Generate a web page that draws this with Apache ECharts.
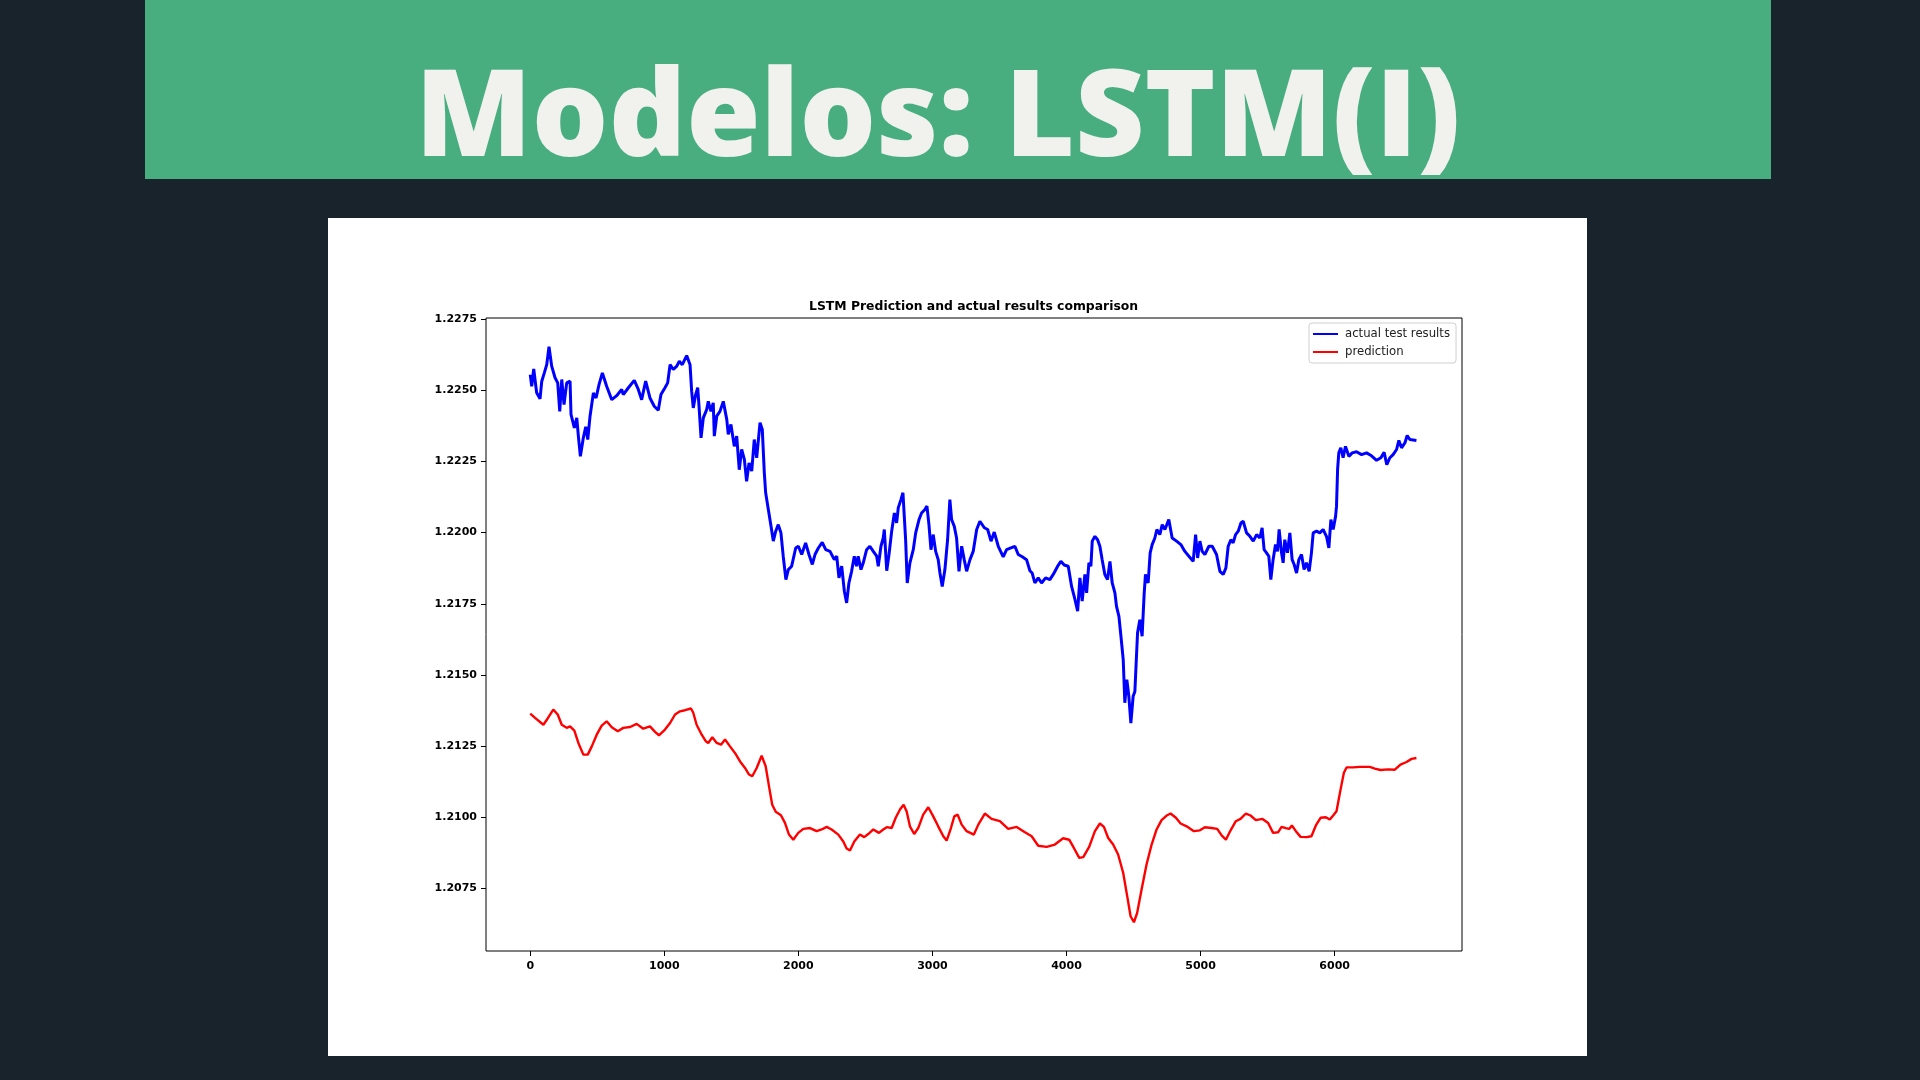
<!DOCTYPE html>
<html>
<head>
<meta charset="utf-8">
<title>Modelos: LSTM(I)</title>
<script src="https://cdn.jsdelivr.net/npm/echarts@6.0.0/dist/echarts.min.js"></script>
<style>
  html, body { margin: 0; padding: 0; }
  body { width: 1920px; height: 1080px; background: #19232c; position: relative; overflow: hidden; }
  .banner { position: absolute; left: 145px; top: 0; width: 1626px; height: 179px; background: #48ae80; }
  .banner h1 {
    position: absolute; left: 0; right: 0; top: 46px; margin: 0;
    text-align: center; color: #f1f1ee;
    font-family: "Open Sans", sans-serif; font-weight: 800; font-size: 120.5px; line-height: 127px;
    padding-right: 40px;
  }
  .panel { position: absolute; left: 328px; top: 218px; width: 1259px; height: 838px; background: #fff; }
  #chart { position: absolute; left: 0; top: 0; width: 1920px; height: 1080px; }
</style>
</head>
<body>
<div class="banner"><h1>Modelos: LSTM(I)</h1></div>
<div class="panel"></div>
<div id="chart"></div>
<script>
// values (x = sample index, y = price)
const actualX = [0, 11, 26, 48, 73, 86, 105, 123, 140, 160, 185, 205, 220, 235, 252, 272, 297, 304, 329, 347,
  359, 374, 396, 414, 429, 446, 471, 491, 513, 538, 570, 608, 645, 682, 694, 732, 776, 806, 831, 861,
  893, 925, 955, 975, 1005, 1025, 1043, 1067, 1093, 1112, 1134, 1167, 1192, 1204, 1216, 1234, 1249, 1259, 1274, 1291,
  1316, 1328, 1348, 1365, 1373, 1391, 1415, 1440, 1466, 1477, 1497, 1522, 1540, 1559, 1577, 1597, 1614, 1632, 1652, 1671,
  1689, 1714, 1731, 1746, 1756, 1776, 1796, 1813, 1831, 1850, 1870, 1887, 1907, 1925, 1950, 1980, 2000, 2025, 2054, 2079,
  2104, 2124, 2149, 2178, 2204, 2236, 2268, 2286, 2303, 2323, 2343, 2360, 2377, 2397, 2417, 2434, 2446, 2467, 2484, 2509,
  2533, 2559, 2584, 2596, 2616, 2633, 2641, 2659, 2676, 2696, 2716, 2733, 2745, 2765, 2780, 2790, 2800, 2812, 2832, 2857,
  2875, 2900, 2919, 2944, 2959, 2974, 2989, 3006, 3024, 3043, 3056, 3073, 3093, 3113, 3130, 3143, 3163, 3180, 3198, 3218,
  3237, 3255, 3280, 3304, 3330, 3354, 3387, 3412, 3437, 3461, 3491, 3528, 3553, 3585, 3615, 3640, 3670, 3702, 3727, 3744,
  3764, 3789, 3814, 3844, 3876, 3901, 3934, 3958, 3983, 4013, 4038, 4063, 4083, 4100, 4117, 4137, 4150, 4167, 4182, 4192,
  4212, 4232, 4249, 4266, 4286, 4306, 4324, 4341, 4361, 4373, 4391, 4406, 4423, 4435, 4450, 4465, 4480, 4497, 4510, 4523,
  4530, 4547, 4564, 4579, 4589, 4609, 4624, 4639, 4659, 4674, 4696, 4714, 4734, 4763, 4788, 4821, 4853, 4883, 4913, 4945,
  4963, 4978, 4995, 5012, 5032, 5062, 5087, 5119, 5144, 5169, 5189, 5206, 5226, 5243, 5261, 5281, 5301, 5318, 5343, 5368,
  5393, 5418, 5442, 5459, 5474, 5492, 5509, 5524, 5541, 5559, 5574, 5586, 5604, 5616, 5628, 5648, 5666, 5683, 5698, 5716,
  5733, 5753, 5772, 5790, 5810, 5827, 5840, 5865, 5889, 5914, 5939, 5957, 5972, 5989, 6007, 6014, 6022, 6031, 6046, 6063,
  6081, 6106, 6131, 6163, 6201, 6238, 6275, 6313, 6345, 6369, 6389, 6412, 6436, 6462, 6479, 6499, 6524, 6541, 6561, 6610];
const actualY = [1.22555, 1.22514, 1.22575, 1.22491, 1.2247, 1.22532, 1.22561, 1.2259, 1.22653, 1.22585, 1.22544, 1.22526, 1.22426, 1.22538, 1.2245, 1.22526, 1.22532, 1.22415, 1.22368, 1.22403,
  1.22339, 1.22268, 1.22333, 1.22372, 1.22327, 1.22409, 1.22491, 1.22473, 1.2252, 1.22561, 1.22514, 1.22467, 1.22481, 1.22503, 1.22485, 1.22509, 1.22535, 1.22503, 1.22467, 1.22532,
  1.22473, 1.22444, 1.2243, 1.22485, 1.22509, 1.22526, 1.2259, 1.22573, 1.22585, 1.22602, 1.2259, 1.22622, 1.2259, 1.22497, 1.22438, 1.22485, 1.22509, 1.22444, 1.22333, 1.22403,
  1.22432, 1.22461, 1.22426, 1.22456, 1.22339, 1.22409, 1.22426, 1.22461, 1.22397, 1.22345, 1.2238, 1.22303, 1.22339, 1.22221, 1.22292, 1.22257, 1.2218, 1.22245, 1.22216, 1.22327,
  1.22263, 1.22386, 1.22362, 1.2221, 1.2214, 1.22081, 1.22022, 1.2197, 1.22005, 1.22028, 1.21999, 1.21917, 1.21835, 1.2187, 1.21882, 1.21946, 1.21952, 1.21923, 1.21964, 1.21923,
  1.21888, 1.21923, 1.21946, 1.21966, 1.2194, 1.21934, 1.21905, 1.21917, 1.21841, 1.21882, 1.21794, 1.21753, 1.21823, 1.21864, 1.21917, 1.21882, 1.21917, 1.2187, 1.21894, 1.2194,
  1.21952, 1.21934, 1.21917, 1.21882, 1.21952, 1.21981, 1.22011, 1.21866, 1.21923, 1.22005, 1.22069, 1.22034, 1.22087, 1.22116, 1.2214, 1.22057, 1.21975, 1.21823, 1.21894, 1.2194,
  1.21999, 1.22046, 1.22069, 1.22081, 1.22093, 1.22028, 1.2194, 1.21993, 1.21934, 1.21905, 1.21858, 1.21811, 1.2187, 1.21975, 1.22116, 1.22046, 1.22022, 1.21981, 1.21864, 1.21952,
  1.21905, 1.21864, 1.21905, 1.21934, 1.22011, 1.2204, 1.22017, 1.22011, 1.2197, 1.22002, 1.21952, 1.21915, 1.2194, 1.21946, 1.21952, 1.21923, 1.21915, 1.21905, 1.21866, 1.21858,
  1.21823, 1.21841, 1.21823, 1.21841, 1.21835, 1.21853, 1.21882, 1.21899, 1.21886, 1.21882, 1.21811, 1.21765, 1.21724, 1.21841, 1.21759, 1.21853, 1.21788, 1.21894, 1.21882, 1.2197,
  1.21987, 1.21975, 1.21952, 1.21905, 1.21853, 1.21835, 1.21899, 1.21823, 1.21788, 1.21741, 1.21706, 1.21636, 1.21554, 1.21402, 1.21483, 1.21425, 1.21331, 1.21425, 1.21442, 1.21577,
  1.21648, 1.21694, 1.21636, 1.21783, 1.21853, 1.21823, 1.21929, 1.21958, 1.21981, 1.22011, 1.21993, 1.22028, 1.22011, 1.22046, 1.21981, 1.2197, 1.21958, 1.21934, 1.21917, 1.21899,
  1.21993, 1.21911, 1.2197, 1.21934, 1.21923, 1.21952, 1.21952, 1.21923, 1.21864, 1.21853, 1.21876, 1.21952, 1.21975, 1.21964, 1.21993, 1.22005, 1.22034, 1.2204, 1.21999, 1.21987,
  1.2197, 1.21993, 1.21981, 1.22017, 1.2194, 1.21929, 1.21917, 1.21835, 1.21905, 1.21958, 1.21934, 1.22011, 1.21929, 1.21894, 1.21975, 1.21929, 1.21999, 1.21905, 1.21888, 1.21858,
  1.21905, 1.21923, 1.2187, 1.21894, 1.21864, 1.21929, 1.21999, 1.22005, 1.21999, 1.22011, 1.21987, 1.21946, 1.22046, 1.22011, 1.22057, 1.22093, 1.22221, 1.2228, 1.22298, 1.22263,
  1.22303, 1.22268, 1.2228, 1.22284, 1.22274, 1.2228, 1.2227, 1.22254, 1.22263, 1.22282, 1.22239, 1.22263, 1.22274, 1.22292, 1.22324, 1.22298, 1.22315, 1.22341, 1.22327, 1.22324];

const predX = [0, 36, 98, 130, 172, 205, 235, 272, 297, 329, 359, 396, 429, 459, 496, 533, 570, 608, 653, 694,
  745, 794, 843, 893, 931, 960, 1005, 1043, 1080, 1117, 1154, 1199, 1216, 1241, 1279, 1309, 1328, 1358, 1391, 1423,
  1453, 1490, 1527, 1565, 1602, 1632, 1656, 1689, 1726, 1756, 1783, 1805, 1831, 1870, 1900, 1930, 1962, 1999, 2037, 2087,
  2136, 2174, 2211, 2248, 2298, 2335, 2360, 2385, 2417, 2459, 2491, 2521, 2559, 2601, 2633, 2659, 2696, 2726, 2758, 2785,
  2808, 2832, 2864, 2894, 2931, 2969, 3006, 3043, 3081, 3106, 3138, 3163, 3188, 3218, 3255, 3309, 3342, 3391, 3441, 3503,
  3565, 3628, 3690, 3740, 3789, 3852, 3913, 3975, 4020, 4055, 4095, 4125, 4169, 4212, 4249, 4279, 4311, 4348, 4385, 4423,
  4453, 4478, 4503, 4527, 4560, 4597, 4635, 4672, 4709, 4747, 4776, 4816, 4851, 4896, 4950, 4995, 5032, 5082, 5124, 5157,
  5189, 5224, 5263, 5298, 5338, 5373, 5412, 5462, 5504, 5541, 5578, 5604, 5636, 5661, 5681, 5711, 5746, 5790, 5827, 5860,
  5895, 5934, 5964, 5989, 6014, 6044, 6069, 6089, 6138, 6188, 6262, 6300, 6342, 6399, 6449, 6491, 6536, 6574, 6610];
const predY = [1.21364, 1.21349, 1.21325, 1.21347, 1.21378, 1.21361, 1.21325, 1.21314, 1.21319, 1.21304, 1.21261, 1.2122, 1.2122, 1.21249, 1.2129, 1.21322, 1.21337, 1.21316, 1.21302, 1.21314,
  1.21317, 1.21328, 1.21311, 1.21319, 1.213, 1.21288, 1.21308, 1.21331, 1.21361, 1.21372, 1.21376, 1.21382, 1.21367, 1.21325, 1.2129, 1.21267, 1.21261, 1.21281, 1.21261, 1.21255,
  1.21273, 1.21249, 1.21226, 1.21196, 1.21173, 1.2115, 1.21144, 1.21173, 1.21216, 1.21179, 1.21103, 1.21044, 1.21019, 1.21007, 1.2098, 1.20939, 1.20921, 1.20945, 1.20959, 1.20962,
  1.20951, 1.20957, 1.20966, 1.20957, 1.20939, 1.20915, 1.2089, 1.20883, 1.20915, 1.20939, 1.2093, 1.20941, 1.20957, 1.20945, 1.20957, 1.20965, 1.20962, 1.20998, 1.21027, 1.21044,
  1.2102, 1.20968, 1.20941, 1.20962, 1.21009, 1.21035, 1.21003, 1.20968, 1.20933, 1.20918, 1.20962, 1.21003, 1.21009, 1.20974, 1.20951, 1.20939, 1.20974, 1.21013, 1.20994, 1.20986,
  1.20959, 1.20966, 1.20947, 1.20933, 1.209, 1.20896, 1.20904, 1.20926, 1.20921, 1.20892, 1.20857, 1.2086, 1.20896, 1.20951, 1.20978, 1.20966, 1.20927, 1.20904, 1.20869, 1.20804,
  1.20722, 1.20652, 1.20631, 1.20664, 1.20746, 1.20834, 1.20904, 1.20957, 1.2099, 1.21006, 1.21013, 1.20998, 1.20978, 1.20968, 1.20951, 1.20954, 1.20965, 1.20962, 1.20959, 1.20936,
  1.20921, 1.20954, 1.20986, 1.20994, 1.21013, 1.21006, 1.2099, 1.20994, 1.2098, 1.20945, 1.20947, 1.20966, 1.20962, 1.20959, 1.20971, 1.20951, 1.20931, 1.2093, 1.20933, 1.20971,
  1.20998, 1.21, 1.20992, 1.21006, 1.21021, 1.21097, 1.21156, 1.21175, 1.21175, 1.21177, 1.21177, 1.21171, 1.21166, 1.21168, 1.21167, 1.21185, 1.21194, 1.21205, 1.21208];

const xTicks = [0, 1000, 2000, 3000, 4000, 5000, 6000];
const yTicks = [1.2075, 1.21, 1.2125, 1.215, 1.2175, 1.22, 1.2225, 1.225, 1.2275];

const pairs = (xs, ys) => xs.map((x, i) => [x, ys[i]]);

const tickFont = { fontFamily: 'DejaVu Sans', fontSize: 11, fontWeight: 'bold', color: '#000' };

const chart = echarts.init(document.getElementById('chart'), null, { width: 1920, height: 1080 });
chart.setOption({
  animation: false,
  backgroundColor: 'transparent',
  title: {
    text: 'LSTM Prediction and actual results comparison',
    left: 804,
    top: 296,
    textStyle: { fontFamily: 'DejaVu Sans', fontSize: 12.4, fontWeight: 'bold', color: '#000' }
  },
  legend: {
    orient: 'vertical',
    left: 1309,
    top: 323,
    padding: [5, 6, 5, 4],
    itemGap: 6,
    itemWidth: 25,
    itemHeight: 2,
    icon: 'rect',
    backgroundColor: '#fff',
    borderColor: '#cfcfcf',
    borderWidth: 1,
    borderRadius: 3,
    textStyle: { fontFamily: 'DejaVu Sans', fontSize: 11.7, color: '#222', padding: [0, 0, 0, 2] },
    data: ['actual test results', 'prediction']
  },
  grid: {
    left: 486, top: 318, width: 976, height: 633,
    show: true, borderColor: '#000', borderWidth: 1, backgroundColor: 'transparent'
  },
  xAxis: {
    type: 'value',
    min: -330,
    max: 6950,
    splitLine: { show: false },
    axisLine: { show: false, onZero: false },
    axisTick: { show: true, length: 5, lineStyle: { color: '#000' }, customValues: xTicks },
    axisLabel: Object.assign({ margin: 10, customValues: xTicks, formatter: v => String(v) }, tickFont)
  },
  yAxis: {
    type: 'value',
    min: 1.2053,
    max: 1.22754,
    splitLine: { show: false },
    axisLine: { show: false, onZero: false },
    axisTick: { show: true, length: 5, lineStyle: { color: '#000' }, customValues: yTicks },
    axisLabel: Object.assign({ margin: 9, customValues: yTicks, formatter: v => v.toFixed(4) }, tickFont)
  },
  series: [
    {
      name: 'actual test results',
      type: 'line',
      data: pairs(actualX, actualY),
      showSymbol: false,
      color: '#0000ff',
      lineStyle: { color: '#0000ff', width: 3 }
    },
    {
      name: 'prediction',
      type: 'line',
      data: pairs(predX, predY),
      showSymbol: false,
      color: '#ff0000',
      lineStyle: { color: '#ff0000', width: 2.4 }
    }
  ]
});
</script>
</body>
</html>
